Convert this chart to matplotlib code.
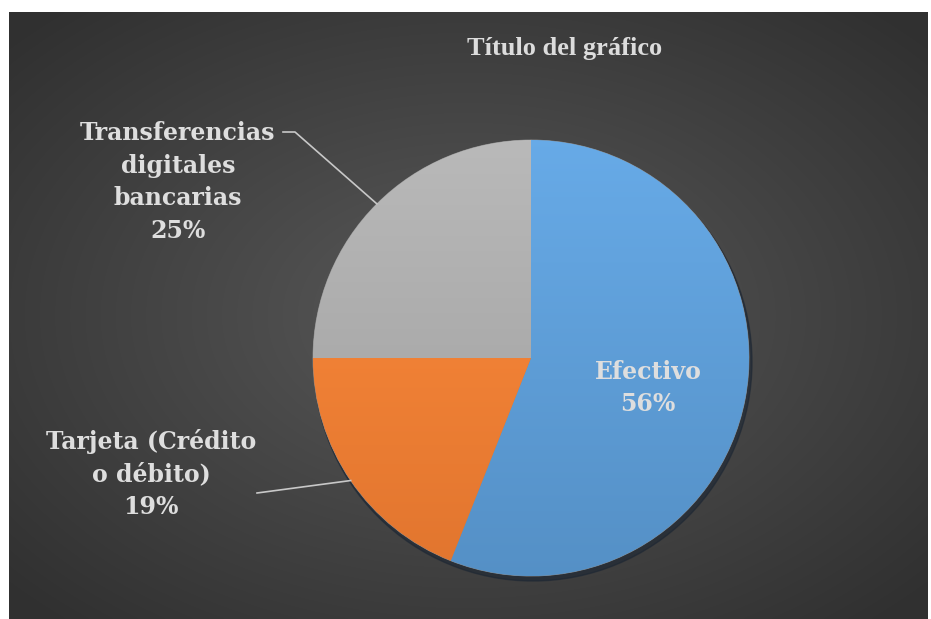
import numpy as np
import matplotlib.pyplot as plt
from matplotlib.colors import to_rgb

# --- Chart data ---
categories = ["Efectivo", "Tarjeta (Crédito\no débito)", "Transferencias\ndigitales\nbancarias"]
shares = [56, 19, 25]
colors = ["#5b9bd5", "#f27e32", "#a9a9a9"]
title = "Título del gráfico"

W, H = 931, 619
fig = plt.figure(figsize=(W / 100, H / 100), dpi=100, facecolor="white")
ax = fig.add_axes([0, 0, 1, 1])

# --- dark background with radial gradient (pixel coords, y up) ---
x0, x1, y0, y1 = 9, 928, 0, 607
gx, gy = np.meshgrid(np.linspace(-1, 1, 400), np.linspace(-1, 1, 300))
r = np.clip(np.sqrt(gx ** 2 + gy ** 2) / 1.35, 0, 1)
shade = 0.35 - 0.16 * r
bg = np.dstack([shade, shade, shade])
ax.imshow(bg, extent=[x0, x1, y0, y1], origin="lower", zorder=0, interpolation="bilinear")

# --- pie ---
cx, cy, rad = 531, H - 358, 218
# soft shadow under the pie
ax.add_patch(plt.Circle((cx + 2, cy - 4), rad + 1, color="#1c2633", alpha=0.6, zorder=1))
wedges, _ = ax.pie(shares, colors=colors, startangle=90, counterclock=False,
                   center=(cx, cy), radius=rad, frame=True,
                   wedgeprops=dict(linewidth=0.6, edgecolor="#8a8a8a"))

# light-to-dark vertical gradient inside every slice (Excel style)
t = np.linspace(0, 1, 256)[:, None]
for w, c in zip(wedges, colors):
    w.set_zorder(2)
    base = np.array(to_rgb(c))
    top = np.clip(base * 1.05 + 0.03, 0, 1)
    bot = base * 0.93
    grad = (top * t[..., None] + bot * (1 - t[..., None])) * np.ones((1, 2, 1))
    im = ax.imshow(grad, extent=[cx - rad, cx + rad, cy - rad, cy + rad], origin="lower",
                   zorder=2.5, interpolation="bilinear")
    im.set_clip_path(w)

ax.set_xlim(0, W)
ax.set_ylim(0, H)
ax.set_aspect("equal")
ax.axis("off")

label_font = dict(family="DejaVu Serif", weight="bold", fontsize=17,
                  color="#dedede", ha="center", va="center", linespacing=1.45)

# Efectivo: inside label
ax.text(648, H - 388, f"{categories[0]}\n{shares[0]}%", zorder=5, **label_font)

# outside labels with leader lines
def mid_angle(w):
    return np.deg2rad((w.theta1 + w.theta2) / 2)

# Tarjeta
a = mid_angle(wedges[1])
ex, ey = cx + rad * np.cos(a), cy + rad * np.sin(a)
ax.plot([257, ex], [H - 493, ey], color="#c8c8c8", lw=1.2, zorder=3)
ax.text(151, H - 474, f"{categories[1]}\n{shares[1]}%", zorder=5, **label_font)

# Transferencias
a = mid_angle(wedges[2])
ex, ey = cx + rad * np.cos(a), cy + rad * np.sin(a)
ax.plot([283, 295, ex], [H - 132, H - 132, ey], color="#c8c8c8", lw=1.2, zorder=3)
ax.text(178, H - 182, f"{categories[2]}\n{shares[2]}%", zorder=5, **label_font)

# --- title ---
ax.text(565, H - 48, title, family="Liberation Serif",
        weight="bold", fontsize=19, color="#dcdcdc", ha="center", va="center", zorder=5)

fig.savefig("out.png", dpi=100, facecolor="white")
